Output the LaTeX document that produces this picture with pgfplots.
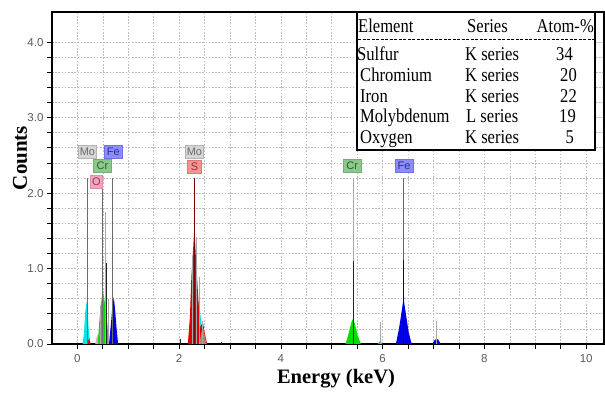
\documentclass[border=0pt]{standalone}
\usepackage{pgfplots}
\pgfplotsset{compat=1.18}
\usetikzlibrary{calc}
\usepackage{fontspec}
\setmainfont{Liberation Serif}
\setsansfont{Liberation Sans}
\newfontfamily\tablefont[FakeStretch=0.85]{Liberation Serif}

\definecolor{gridgray}{HTML}{BDBDBD}
\definecolor{tickgray}{HTML}{5A5A5A}
\definecolor{peakcyan}{HTML}{00E5E5}
\definecolor{peakgreen}{HTML}{00DD00}
\definecolor{peakblue}{HTML}{0000E6}
\definecolor{peakred}{HTML}{E00000}
\definecolor{peakpink}{HTML}{F2A0B4}
\definecolor{moshade}{HTML}{A8A8A8}
% element tag colours: fill, border, text
\definecolor{moF}{HTML}{D6D6D6}\definecolor{moD}{HTML}{B4B4B4}\definecolor{moT}{HTML}{6A6A6A}
\definecolor{feF}{HTML}{8C8CFF}\definecolor{feD}{HTML}{7070E0}\definecolor{feT}{HTML}{303088}
\definecolor{crF}{HTML}{8CC88C}\definecolor{crD}{HTML}{70B070}\definecolor{crT}{HTML}{2E5E2E}
\definecolor{oF}{HTML}{F4A4BC}\definecolor{oD}{HTML}{E090A8}\definecolor{oT}{HTML}{9A3A5A}
\definecolor{sF}{HTML}{F49494}\definecolor{sD}{HTML}{E07878}\definecolor{sT}{HTML}{9A2A2A}

\tikzset{tag/.style={font=\sffamily\fontsize{11}{11}\selectfont, inner sep=0pt,
  minimum height=13pt, minimum width=18pt, line width=0.6pt}}

\begin{document}
\begin{tikzpicture}
\begin{axis}[
  scale only axis, width=552pt, height=332pt,
  xmin=-0.5, xmax=10.35, ymin=0, ymax=4.4,
  axis line style={line width=2pt, black},
  xtick={0,2,...,10}, minor x tick num=3,
  ytick={0,1,...,4}, minor y tick num=4,
  tick align=outside, tick pos=left,
  major tick length=5pt, minor tick length=5pt,
  every tick/.style={black, line width=0.8pt},
  grid=both,
  major grid style={gridgray, dash pattern=on 1.6pt off 1.6pt, line width=0.7pt},
  minor grid style={gridgray, dash pattern=on 1.6pt off 1.6pt, line width=0.7pt},
  /pgf/number format/assume math mode=true,
  ticklabel style={font=\sffamily\fontsize{11.5}{12}\selectfont, text=tickgray},
  yticklabel style={/pgf/number format/.cd, fixed, fixed zerofill, precision=1},
  xticklabel style={yshift=-2pt},
]
% --- low-energy region: O K, Mo M, Cr L, Fe L ---
\addplot[fill=peakcyan, draw=none] coordinates {(0.10,0) (0.13,0.15) (0.15,0.40) (0.18,0.56) (0.20,0.48) (0.22,0.20) (0.25,0)} \closedcycle;
\addplot[fill=peakred, draw=none] coordinates {(0.20,0) (0.23,0.08) (0.26,0)} \closedcycle;
\addplot[fill=peakpink, draw=none] coordinates {(0.35,0) (0.38,0.10) (0.41,0.14) (0.44,0)} \closedcycle;
\addplot[fill=peakgreen, draw=none] coordinates {(0.40,0) (0.43,0.30) (0.46,0.52) (0.50,0.71) (0.53,0.58) (0.56,0.48) (0.59,0.25) (0.62,0)} \closedcycle;
\addplot[fill=peakblue, draw=none] coordinates {(0.62,0) (0.66,0.28) (0.69,0.52) (0.715,0.62) (0.74,0.46) (0.77,0.20) (0.80,0)} \closedcycle;
% --- S K / Mo L region ---
\addplot[fill=peakcyan, draw=none] coordinates {(2.18,0) (2.22,0.30) (2.27,0.62) (2.32,0.52) (2.39,0.56) (2.44,0.25) (2.49,0)} \closedcycle;
\addplot[fill=peakred, draw=none] coordinates {(2.17,0) (2.21,0.35) (2.24,0.90) (2.27,1.22) (2.30,1.55) (2.33,1.12) (2.36,0.78) (2.39,0.45) (2.41,0.22) (2.44,0.26) (2.47,0.27) (2.51,0.12) (2.55,0)} \closedcycle;
\addplot[fill=moshade, fill opacity=0.75, draw=none] coordinates {(2.40,0) (2.43,0.14) (2.47,0.22) (2.51,0.08) (2.54,0)} \closedcycle;
% --- Cr K, Fe K ---
\addplot[fill=peakgreen, draw=none] coordinates {(5.27,0) (5.33,0.14) (5.38,0.28) (5.42,0.34) (5.46,0.25) (5.51,0.11) (5.57,0)} \closedcycle;
\addplot[fill=peakgreen, draw=none] coordinates {(5.90,0) (5.95,0.04) (6.00,0)} \closedcycle;
\addplot[fill=peakblue, draw=none] coordinates {(6.26,0) (6.32,0.20) (6.37,0.42) (6.40,0.56) (6.41,1.11) (6.42,0.56) (6.46,0.38) (6.51,0.16) (6.57,0)} \closedcycle;
\addplot[fill=peakblue, draw=none] coordinates {(6.97,0) (7.02,0.05) (7.06,0.07) (7.10,0.05) (7.14,0)} \closedcycle;
% --- spectrum channels ---
\addplot[ycomb, draw=moshade, line width=0.9pt, mark=none] coordinates {(0.45,0.52) (0.55,1.75) (0.61,0.6) (2.27,1.16) (2.34,1.42) (2.40,0.89) (2.45,0.3) (5.95,0.29) (7.06,0.30)};
\addplot[ycomb, draw=black!85, line width=0.8pt, mark=none] coordinates {(0.57,1.07) (2.02,0.06) (2.83,0.03) (5.42,1.10)};
% --- element marker lines ---
\addplot[ycomb, draw=gray!85!black, line width=0.7pt, mark=none] coordinates {(0.196,2.2) (0.497,2.2) (0.693,2.2)};
\addplot[ycomb, draw=moshade, line width=0.8pt, mark=none] coordinates {(5.42,2.2)};
\addplot[ycomb, draw=gray!80!black, line width=0.7pt, mark=none] coordinates {(6.41,2.2)};
\addplot[ycomb, draw=black!85, line width=0.8pt, mark=none] coordinates {(5.42,1.10)};
\addplot[ycomb, draw=blue!50!black, line width=0.8pt, mark=none] coordinates {(6.41,1.11)};
\addplot[ycomb, draw=red!50!black, line width=0.9pt, mark=none] coordinates {(2.30,2.2)};
% --- element tags ---
\node[tag, fill=moF, draw=moD, text=moT] at (axis cs:0.196,2.543) {Mo};
\node[tag, fill=feF, draw=feD, text=feT] at (axis cs:0.707,2.543) {Fe};
\node[tag, fill=crF, draw=crD, text=crT] at (axis cs:0.491,2.358) {Cr};
\node[tag, fill=oF, draw=oD, text=oT, minimum width=12pt] at (axis cs:0.373,2.146) {O};
\node[tag, fill=moF, draw=moD, text=moT] at (axis cs:2.30,2.543) {Mo};
\node[tag, fill=sF, draw=sD, text=sT, minimum width=14pt] at (axis cs:2.30,2.344) {S};
\node[tag, fill=crF, draw=crD, text=crT] at (axis cs:5.40,2.358) {Cr};
\node[tag, fill=feF, draw=feD, text=feT] at (axis cs:6.42,2.358) {Fe};
\end{axis}

\begin{scope}[shift={($(current axis.north west)+(-52pt,12pt)$)}, x=1pt, y=-1pt]
  % composition table
  \draw[line width=2pt, fill=white] (357,12) rectangle (595,150);
  \draw[line width=0.9pt, dash pattern=on 3pt off 1.5pt] (358,39) -- (594,39);
  \begin{scope}[every node/.style={inner sep=0pt, font=\tablefont\fontsize{19.5}{20}\selectfont}]
    \node[anchor=base west] at (358,32) {Element};
    \node[anchor=base west] at (467,32) {Series};
    \node[anchor=base east] at (594,32) {Atom-\%};
    \node[anchor=base west] at (357,60) {Sulfur};
    \node[anchor=base west] at (360,81) {Chromium};
    \node[anchor=base west] at (360,102) {Iron};
    \node[anchor=base west] at (360,122) {Molybdenum};
    \node[anchor=base west] at (360,143) {Oxygen};
    \node[anchor=base west] at (465,60) {K series};
    \node[anchor=base west] at (465,81) {K series};
    \node[anchor=base west] at (465,102) {K series};
    \node[anchor=base west] at (466,122) {L series};
    \node[anchor=base west] at (465,143) {K series};
    \node[anchor=base east] at (573,60) {34};
    \node[anchor=base east] at (577,81) {20};
    \node[anchor=base east] at (577,102) {22};
    \node[anchor=base east] at (576,122) {19};
    \node[anchor=base east] at (574,143) {5};
  \end{scope}
  % axis titles
  \node[anchor=base, inner sep=0pt, font=\fontsize{20.5}{24}\selectfont\bfseries] at (336,383) {Energy (keV)};
  \node[anchor=base, rotate=90, inner sep=0pt, font=\fontsize{21}{24}\selectfont\bfseries] at (27,158) {Counts};
  \pgfresetboundingbox
  \path (0,0) rectangle (605,392);
\end{scope}
\end{tikzpicture}
\end{document}
